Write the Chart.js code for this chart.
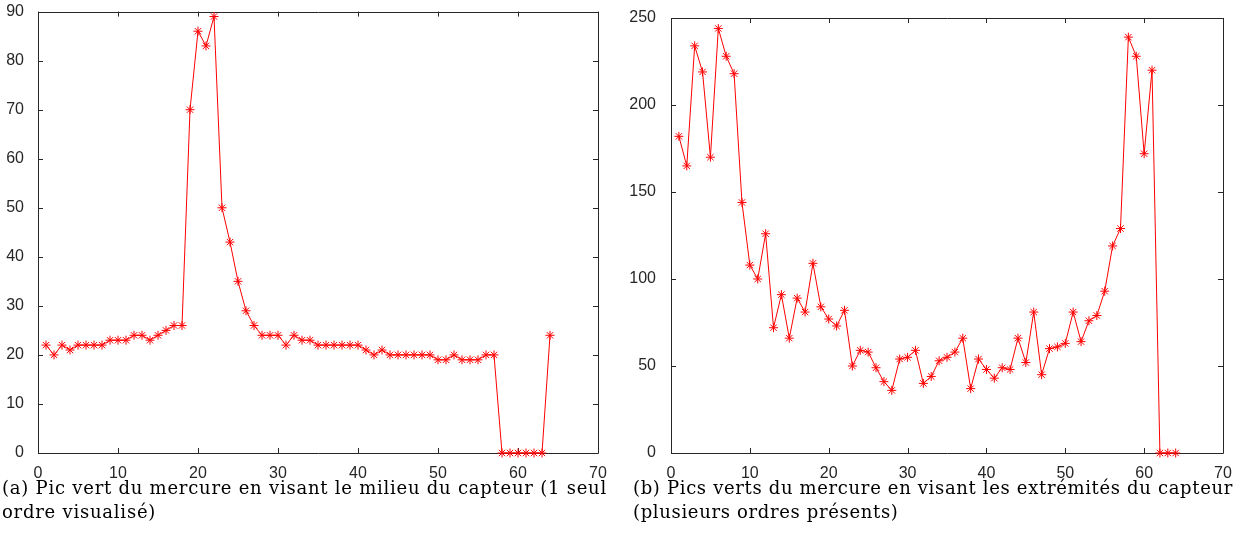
<!DOCTYPE html>
<html>
<head>
<meta charset="utf-8">
<script src="https://cdn.jsdelivr.net/npm/chart.js@4.4.1/dist/chart.umd.min.js"></script>
<style>
  body { margin: 0; background: #fff; width: 1241px; height: 540px; overflow: hidden; position: relative; }
  .plot { position: absolute; }
  .cap { position: absolute; top: 476px; font-family: "DejaVu Serif", serif; font-size: 18px; line-height: 24px; color: #000; white-space: nowrap; }
</style>
</head>
<body>
<div class="plot" style="left:0; top:-4px; width:620px; height:484px;"><canvas id="chartA"></canvas></div>
<div class="plot" style="left:630px; top:0; width:611px; height:480px;"><canvas id="chartB"></canvas></div>
<div class="cap" id="capA" data-w="605" style="left:2px;"><span>(a) Pic vert du mercure en visant le milieu du capteur (1 seul</span><br><span>ordre visualisé)</span></div>
<div class="cap" id="capB" data-w="600" style="left:633px;"><span>(b) Pics verts du mercure en visant les extrémités du capteur</span><br><span>(plusieurs ordres présents)</span></div>
<script>
// pixel index along the sensor, 1..64
const pixelsA = [1,2,3,4,5,6,7,8,9,10,11,12,13,14,15,16,17,18,19,20,21,22,23,24,25,26,27,28,29,30,31,32,
  33,34,35,36,37,38,39,40,41,42,43,44,45,46,47,48,49,50,51,52,53,54,55,56,57,58,59,60,61,62,63,64];
const pixelsB = pixelsA;

// (a) centre of the sensor
const valuesA = [22,20,22,21,22,22,22,22,23,23,23,24,24,23,24,25,26,26,70,86,83,89,50,43,35,29,26,24,24,24,22,24,
  23,23,22,22,22,22,22,22,21,20,21,20,20,20,20,20,20,19,19,20,19,19,19,20,20,0,0,0,0,0,0,24];

// (b) ends of the sensor
const valuesB = [182,165,234,219,170,244,228,218,144,108,100,126,72,91,66,89,81,109,84,77,73,82,50,59,58,49,41,36,54,55,59,40,
  44,53,55,58,66,37,54,48,43,49,48,66,52,81,45,60,61,63,81,64,76,79,93,119,129,239,228,172,220,0,0,0];

const xTicks = [0,10,20,30,40,50,60,70];
const yTicksA = [0,10,20,30,40,50,60,70,80,90];
const yTicksB = [0,50,100,150,200,250];

const axisColor = '#262626';

// stretch the caption lines to the width of the LaTeX captions
document.querySelectorAll('.cap').forEach(cap => {
  const first = cap.querySelector('span');
  const target = +cap.dataset.w;
  const n = first.textContent.length;
  const w = first.getBoundingClientRect().width;
  cap.style.letterSpacing = ((target - w) / n) + 'px';
});

// MATLAB style box with inward ticks on all four sides
const boxTicks = {
  id: 'boxTicks',
  beforeDatasetsDraw(chart) {
    const { ctx, chartArea: a, scales } = chart;
    const len = 5;
    ctx.save();
    ctx.strokeStyle = axisColor;
    ctx.lineWidth = 1;
    ctx.beginPath();
    ctx.rect(Math.round(a.left) + 0.5, Math.round(a.top) + 0.5, Math.round(a.right - a.left), Math.round(a.bottom - a.top));
    scales.x.ticks.forEach(t => {
      const px = Math.round(scales.x.getPixelForValue(t.value)) + 0.5;
      ctx.moveTo(px, a.bottom); ctx.lineTo(px, a.bottom - len);
      ctx.moveTo(px, a.top); ctx.lineTo(px, a.top + len);
    });
    scales.y.ticks.forEach(t => {
      const py = Math.round(scales.y.getPixelForValue(t.value)) + 0.5;
      ctx.moveTo(a.left, py); ctx.lineTo(a.left + len, py);
      ctx.moveTo(a.right, py); ctx.lineTo(a.right - len, py);
    });
    ctx.stroke();
    ctx.restore();
  }
};

function makeChart(id, xs, ys, yTicks, yMax, yWidth, pad, yPad) {
  return new Chart(document.getElementById(id), {
    type: 'line',
    data: {
      datasets: [{
        data: ys.map((v, i) => ({ x: xs[i], y: v })),
        borderColor: '#ff0000',
        borderWidth: 1,
        pointStyle: 'star',
        pointRadius: 4.5,
        pointBorderWidth: 1,
        pointBorderColor: '#ff0000',
        pointBackgroundColor: '#ff0000',
        tension: 0,
        clip: false
      }]
    },
    options: {
      responsive: true,
      maintainAspectRatio: false,
      animation: false,
      layout: { padding: pad },
      plugins: { legend: { display: false }, tooltip: { enabled: false } },
      scales: {
        x: {
          type: 'linear', min: 0, max: 70,
          afterBuildTicks: s => { s.ticks = xTicks.map(v => ({ value: v })); },
          afterFit: s => { s.height = 27; },
          grid: { display: false }, border: { display: false },
          ticks: { color: axisColor, padding: 3, font: { family: 'Liberation Sans', size: 16 } }
        },
        y: {
          type: 'linear', min: 0, max: yMax,
          afterBuildTicks: s => { s.ticks = yTicks.map(v => ({ value: v })); },
          afterFit: s => { s.width = yWidth; },
          grid: { display: false }, border: { display: false },
          ticks: { color: axisColor, padding: yPad, font: { family: 'Liberation Sans', size: 16 } }
        }
      }
    },
    plugins: [boxTicks]
  });
}

makeChart('chartA', pixelsA, valuesA, yTicksA, 90, 38, { top: 15, right: 22, left: 0, bottom: 0 }, 6);
makeChart('chartB', pixelsB, valuesB, yTicksB, 250, 41, { top: 18, right: 18, left: 0, bottom: 0 }, 7);
</script>
</body>
</html>
